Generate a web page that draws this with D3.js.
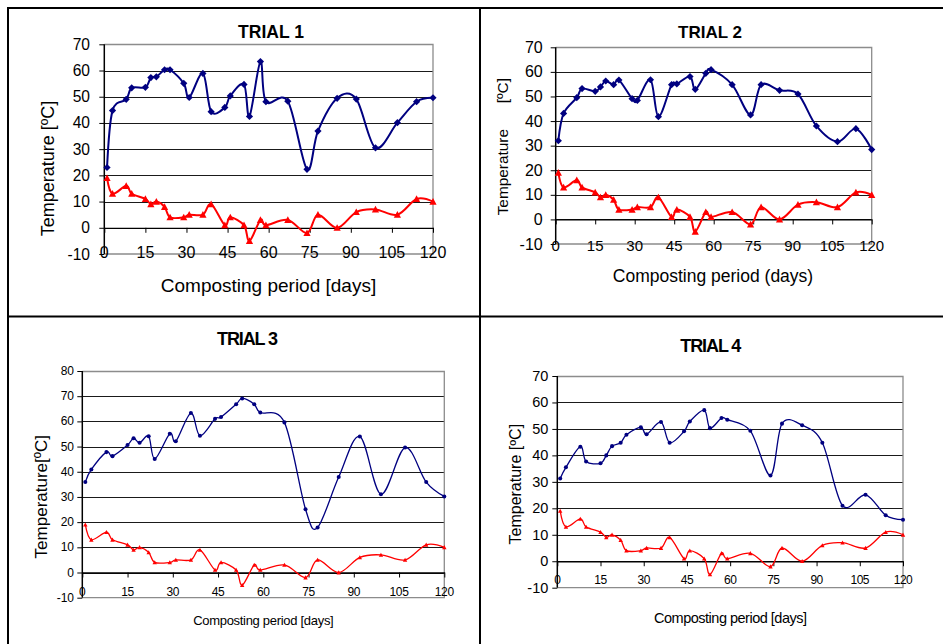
<!DOCTYPE html>
<html>
<head>
<meta charset="utf-8">
<script src="https://cdn.jsdelivr.net/npm/d3@7"></script>
<style>
  html, body { margin: 0; padding: 0; background: #fff; }
  svg { display: block; font-family: "Liberation Sans", Arial, sans-serif; }
</style>
</head>
<body>
<svg id="chart" width="943" height="644"></svg>
<script>
// Sampling days of the composting period
const days = [1, 3, 8, 10, 15, 17, 19, 22, 24, 29, 31, 36, 39, 44, 46, 51, 53, 57, 59, 67, 74, 78, 85, 92, 99, 107, 114, 120];

// Ambient air temperature (same readings for every trial)
const ambient = [19, 13, 16, 13, 11, 9, 10, 8, 4, 4, 5, 5, 9, 1, 4, 1, -5, 3, 1, 3, -2, 5, 0, 6, 7, 5, 11, 10];

// Compost pile temperature for each trial
const trial1 = [23, 44.7, 49, 53.4, 53.6, 57.3, 57.6, 60.3, 60.3, 55.1, 49.7, 58.9, 44.3, 45.9, 50.3, 54.7, 42.5, 63.4, 48.1, 48.3, 22.3, 36.9, 49.4, 49.1, 30.5, 40.1, 48.1, 49.6];
const trial2 = [32, 43.1, 49.5, 53.2, 52.1, 53.9, 56.3, 54.8, 56.7, 49.1, 48.4, 56.8, 41.8, 54.8, 55.1, 58.1, 52.9, 59.4, 60.9, 54.8, 42.5, 54.8, 52.5, 51.0, 38.0, 31.6, 36.9, 28.4];
const trial3 = [35.9, 40.9, 47.8, 46.2, 50.6, 53.3, 51.5, 54.1, 45.1, 55.1, 52.1, 63.3, 54.3, 61.0, 61.7, 66.8, 69.1, 66.8, 63.5, 59.6, 25.1, 17.9, 37.9, 54.0, 31.1, 49.6, 35.9, 30.2];
const trial4 = [31.3, 35.5, 43.3, 37.7, 37.0, 40.0, 43.5, 44.8, 47.8, 50.6, 48.0, 52.6, 44.8, 49.1, 52.8, 57.1, 50.3, 54.1, 53.5, 49.3, 32.4, 52.0, 51.4, 44.8, 21.0, 25.1, 17.4, 15.7];

// Axis ticks
const dayTicks = [0, 15, 30, 45, 60, 75, 90, 105, 120];
const tempTicks70 = [-10, 0, 10, 20, 30, 40, 50, 60, 70];
const tempTicks80 = [-10, 0, 10, 20, 30, 40, 50, 60, 70, 80];

const titles = ["TRIAL 1", "TRIAL 2", "TRIAL 3", "TRIAL 4"];
const yTitles = ["Temperature [ºC]", "Temperature      [ºC]", "Temperature[ºC]", "Temperature [ºC]"];
const xTitles = ["Composting period [days]", "Composting period (days)", "Composting period [days]", "Composting period [days]"];
const compost = [trial1, trial2, trial3, trial4];

// Panel geometry and typography
const panels = [
  { left: 104.3, right: 433, top: 44.3, bottom: 254, yMax: 70, ticks: tempTicks70,
    titleX: 271, titleY: 37.5, titleSize: 17.5, titleLs: 0,
    yTickX: 90, yTickSize: 15.6, xTickY: 252, xTickSize: 16, xTickLs: 0,
    yLabX: 48, yLabY: 168.5, yLabSize: 18, yLabLs: 0,
    xLabX: 268.5, xLabY: 291.5, xLabSize: 19, xLabLs: 0,
    lineW: 2, big: true },
  { left: 555.7, right: 871.7, top: 47.3, bottom: 244, yMax: 70, ticks: tempTicks70,
    titleX: 710, titleY: 37.5, titleSize: 17, titleLs: 0,
    yTickX: 542.7, yTickSize: 16, xTickY: 245, xTickSize: 15, xTickLs: 0,
    yLabX: 502.3, yLabY: 146.7, yLabSize: 15.4, yLabLs: 0,
    xLabX: 713, xLabY: 281.5, xLabSize: 17.5, xLabLs: 0,
    lineW: 2, big: true },
  { left: 82.3, right: 444.3, top: 371, bottom: 597.7, yMax: 80, ticks: tempTicks80,
    titleX: 247, titleY: 345, titleSize: 18, titleLs: -1.1,
    yTickX: 74, yTickSize: 12, xTickY: 592.3, xTickSize: 12, xTickLs: -0.3,
    yLabX: 41.7, yLabY: 496.7, yLabSize: 17, yLabLs: 0,
    xLabX: 263.3, xLabY: 625, xLabSize: 13, xLabLs: -0.3,
    lineW: 1.3, big: false },
  { left: 557.3, right: 903, top: 376, bottom: 587.7, yMax: 70, ticks: tempTicks70,
    titleX: 710.3, titleY: 351.7, titleSize: 18, titleLs: -1.1,
    yTickX: 548.3, yTickSize: 14.5, xTickY: 580, xTickSize: 12, xTickLs: -0.5,
    yLabX: 515, yLabY: 484.2, yLabSize: 16, yLabLs: 0,
    xLabX: 730.3, xLabY: 623.3, xLabSize: 14.5, xLabLs: -0.5,
    lineW: 1.3, big: false }
];

const svg = d3.select("#chart");

// Table frame around the four charts
const frame = svg.append("g").attr("stroke", "#000").attr("stroke-width", 2);
frame.append("line").attr("x1", 7).attr("x2", 943).attr("y1", 8).attr("y2", 8);
frame.append("line").attr("x1", 8).attr("x2", 8).attr("y1", 7).attr("y2", 644);
frame.append("line").attr("x1", 480).attr("x2", 480).attr("y1", 7).attr("y2", 644);
frame.append("line").attr("x1", 7).attr("x2", 943).attr("y1", 316.5).attr("y2", 316.5);

const navy = "#000080";
const red = "#ff0000";

panels.forEach((p, i) => {
  const g = svg.append("g");
  const x = d3.scaleLinear().domain([0, 120]).range([p.left, p.right]);
  const y = d3.scaleLinear().domain([-10, p.yMax]).range([p.bottom, p.top]);

  // Horizontal gridlines
  g.append("g").selectAll("line")
    .data(p.ticks.filter(t => t > -10 && t < p.yMax))
    .join("line")
    .attr("x1", p.left).attr("x2", p.right)
    .attr("y1", d => Math.round(y(d)) + 0.5).attr("y2", d => Math.round(y(d)) + 0.5)
    .attr("stroke", "#1a1a1a").attr("stroke-width", 1);

  // Plot area border (top, right, bottom)
  g.append("path")
    .attr("d", `M${p.left},${Math.round(p.top) + 0.5}H${p.right}V${p.bottom}H${p.left}`)
    .attr("fill", "none").attr("stroke", "#8c8c8c").attr("stroke-width", 1.3);

  // Vertical axis with outward ticks
  const yAxis = d3.axisLeft(y).tickValues(p.ticks).tickSize(5).tickFormat("");
  const ya = g.append("g").attr("transform", `translate(${p.left},0)`).call(yAxis);
  ya.select(".domain").remove();
  ya.selectAll(".tick line").attr("stroke", "#000");
  g.append("line").attr("x1", p.left).attr("x2", p.left).attr("y1", p.top).attr("y2", p.bottom)
    .attr("stroke", "#000").attr("stroke-width", 1.5);

  // Day axis drawn at 0 °C with ticks pointing down
  const xAxis = d3.axisBottom(x).tickValues(dayTicks).tickSize(5).tickFormat("").tickSizeOuter(0);
  const xa = g.append("g").attr("transform", `translate(0,${y(0)})`).call(xAxis);
  xa.select(".domain").attr("stroke", "#000").attr("stroke-width", 1.3);
  xa.selectAll(".tick line").attr("stroke", "#000");

  // Tick labels
  g.append("g").selectAll("text").data(p.ticks).join("text")
    .attr("x", p.yTickX).attr("y", d => y(d))
    .attr("text-anchor", "end").attr("dominant-baseline", "central")
    .attr("font-size", p.yTickSize).attr("fill", "#000")
    .text(d => d);
  g.append("g").selectAll("text").data(dayTicks).join("text")
    .attr("x", d => x(d)).attr("y", p.xTickY)
    .attr("text-anchor", "middle").attr("dominant-baseline", "central")
    .attr("font-size", p.xTickSize).attr("letter-spacing", p.xTickLs).attr("fill", "#000")
    .text(d => d);

  // Titles
  g.append("text").attr("x", p.titleX).attr("y", p.titleY)
    .attr("text-anchor", "middle").attr("font-weight", "bold")
    .attr("font-size", p.titleSize).attr("letter-spacing", p.titleLs)
    .text(titles[i]);
  g.append("text")
    .attr("transform", `translate(${p.yLabX},${p.yLabY}) rotate(-90)`)
    .attr("text-anchor", "middle").attr("dominant-baseline", "central")
    .attr("font-size", p.yLabSize).attr("letter-spacing", p.yLabLs)
    .style("white-space", "pre")
    .text(yTitles[i]);
  g.append("text").attr("x", p.xLabX).attr("y", p.xLabY)
    .attr("text-anchor", "middle")
    .attr("font-size", p.xLabSize).attr("letter-spacing", p.xLabLs)
    .text(xTitles[i]);

  // Smoothed series lines
  const line = d3.line().curve(d3.curveCatmullRom.alpha(0))
    .x((d, k) => x(days[k])).y(d => y(d));
  const series = [
    { values: ambient, color: red, marker: "triangle" },
    { values: compost[i], color: navy, marker: p.big ? "diamond" : "dot" }
  ];
  series.forEach(s => {
    g.append("path").attr("d", line(s.values))
      .attr("fill", "none").attr("stroke", s.color).attr("stroke-width", p.lineW)
      .attr("stroke-linejoin", "round");
    const m = p.big ? 3.6 : 2.2;
    g.append("g").selectAll("path").data(s.values).join("path")
      .attr("transform", (d, k) => `translate(${x(days[k])},${y(d)})`)
      .attr("fill", s.color)
      .attr("d", () => {
        if (s.marker === "diamond") return `M0,${-m}L${m},0L0,${m}L${-m},0Z`;
        if (s.marker === "triangle") return `M0,${-m}L${m},${m * 0.85}L${-m},${m * 0.85}Z`;
        return d3.symbol(d3.symbolCircle, Math.PI * m * m * 0.85)();
      });
  });
});
</script>
</body>
</html>
